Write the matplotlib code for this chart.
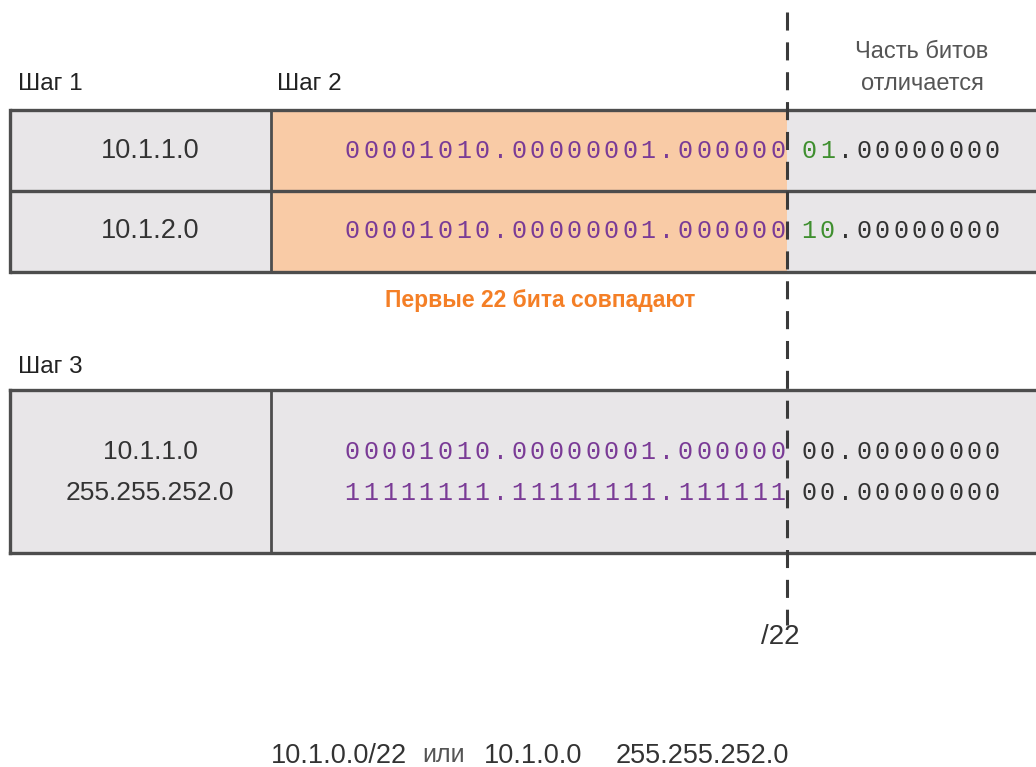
import matplotlib.pyplot as plt
from matplotlib.patches import Rectangle

plt.rcParams['lines.scale_dashes'] = False

# данные
steps = ["Шаг 1", "Шаг 2", "Шаг 3"]
addresses = ["10.1.1.0", "10.1.2.0"]
common_bits = ["00001010.00000001.000000", "00001010.00000001.000000"]
diff_bits = ["01", "10"]
host_bits = ".00000000"
summary_addr = ["10.1.1.0", "255.255.252.0"]
summary_left = ["00001010.00000001.000000", "11111111.11111111.111111"]
summary_right = ["00.00000000", "00.00000000"]
note_diff = "Часть битов\nотличается"
note_match = "Первые 22 бита совпадают"
prefix = "/22"
result = ["10.1.0.0/22", "или", "10.1.0.0", "255.255.252.0"]

# цвета
gray = "#e8e6e8"
peach = "#f9cba6"
border = "#4d4d4d"
purple = "#7a3b96"
green = "#3f8f2f"
dark = "#333333"
orange = "#f47f26"

sans = ["Liberation Sans", "DejaVu Sans"]
mono = ["Liberation Mono", "DejaVu Sans Mono"]

fig = plt.figure(figsize=(10.36, 7.67), dpi=100)
ax = fig.add_axes([0, 0, 1, 1])
ax.set_xlim(0, 1036)
ax.set_ylim(767, 0)
ax.axis("off")

x_left = 10
x_div = 271
x_cut = 787
x_end = 1040
pitch = 18.5


def mono_text(s, x0, y, color, step=pitch):
    # каждый символ отдельно, чтобы получить разрядку как в оригинале
    for i, ch in enumerate(s):
        ax.text(x0 + step * i + step / 2, y, ch, family=mono, fontsize=18,
                color=color, ha="center", va="center")


# верхняя таблица (шаги 1 и 2)
top_y = [110, 191, 272]
for r in range(2):
    y0, y1 = top_y[r], top_y[r + 1]
    ax.add_patch(Rectangle((x_left, y0), x_div - x_left, y1 - y0, fc=gray, ec="none"))
    ax.add_patch(Rectangle((x_div, y0), x_cut - x_div, y1 - y0, fc=peach, ec="none"))
    ax.add_patch(Rectangle((x_cut, y0), x_end - x_cut, y1 - y0, fc=gray, ec="none"))
    yc = (y0 + y1) / 2
    ax.text(150, yc, addresses[r], family=sans, fontsize=19.5,
            color=dark, ha="center", va="center")
    mono_text(common_bits[r], x_cut - pitch * len(common_bits[r]), yc, purple)
    mono_text(diff_bits[r], 800, yc, green, 18.3)
    mono_text(host_bits, 800 + 18.3 * 2, yc, dark, 18.3)

for y in top_y:
    ax.plot([x_left, x_end], [y, y], color=border, lw=2.4, solid_capstyle="butt")
ax.plot([x_left, x_left], [top_y[0], top_y[-1]], color=border, lw=2.4)
ax.plot([x_div, x_div], [top_y[0], top_y[-1]], color=border, lw=2.0)

# нижняя таблица (шаг 3)
b0, b1 = 390, 553
ax.add_patch(Rectangle((x_left, b0), x_end - x_left, b1 - b0, fc=gray, ec="none"))
row_y = [452, 493]
for r in range(2):
    ax.text(150, row_y[r], summary_addr[r], family=sans,
            fontsize=19, color=dark, ha="center", va="center")
    mono_text(summary_left[r], x_cut - pitch * len(summary_left[r]), row_y[r], purple)
    mono_text(summary_right[r], 800, row_y[r], dark, 18.3)
for y in [b0, b1]:
    ax.plot([x_left, x_end], [y, y], color=border, lw=2.4)
ax.plot([x_left, x_left], [b0, b1], color=border, lw=2.4)
ax.plot([x_div, x_div], [b0, b1], color=border, lw=2.0)

# пунктирная линия /22
ax.plot([x_cut, x_cut], [12, 625], color="#3a3a3a", lw=2.2,
        linestyle=(0, (13, 8.5)), zorder=5)

# подписи
ax.text(18, 84, steps[0], family=sans, fontsize=17.5, color="#222222", va="center")
ax.text(277, 84, steps[1], family=sans, fontsize=17.5, color="#222222", va="center")
ax.text(18, 367, steps[2], family=sans, fontsize=17.5, color="#222222", va="center")
ax.text(922, 68, note_diff, family=sans, fontsize=17, color="#555555",
        ha="center", va="center", linespacing=1.55)
ax.text(540, 301, note_match, family=sans, fontsize=16.5, color=orange,
        fontweight="bold", ha="center", va="center")
ax.text(780, 637, prefix, family=sans, fontsize=20, color=dark, ha="center", va="center")

# итоговая строка
ax.text(339, 756, result[0], family=sans, fontsize=19.5, color=dark, ha="center", va="center")
ax.text(444, 755, result[1], family=sans, fontsize=18, color="#555555", ha="center", va="center")
ax.text(533, 756, result[2], family=sans, fontsize=19.5, color=dark, ha="center", va="center")
ax.text(702, 756, result[3], family=sans, fontsize=19.5, color=dark, ha="center", va="center")

fig.savefig("out.png", dpi=100)
